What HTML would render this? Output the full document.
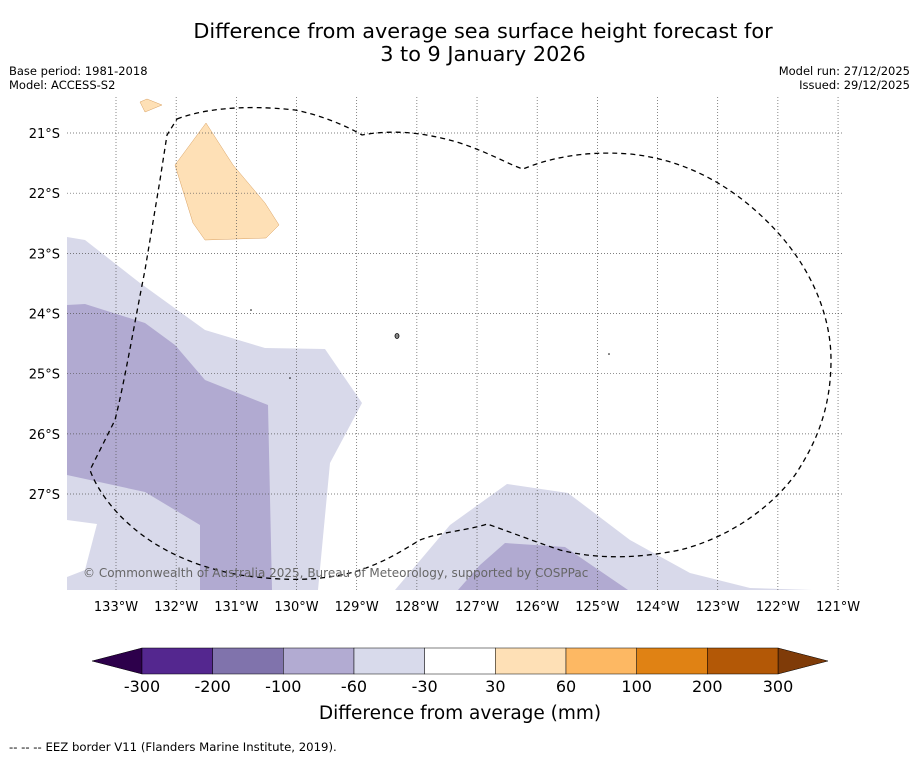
<!DOCTYPE html>
<html><head><meta charset="utf-8"><style>
body{margin:0;background:#fff;font-family:"DejaVu Sans","Liberation Sans",sans-serif;}
svg{display:block}
</style></head><body>
<svg width="919" height="758" viewBox="0 0 919 758" xmlns="http://www.w3.org/2000/svg" font-family="DejaVu Sans, Liberation Sans, sans-serif">
<rect width="919" height="758" fill="#fff"/>
<text x="483" y="38" font-size="20.8" text-anchor="middle">Difference from average sea surface height forecast for</text>
<text x="483" y="61" font-size="20.8" text-anchor="middle">3 to 9 January 2026</text>
<text x="9" y="75" font-size="11.5">Base period: 1981-2018</text>
<text x="9" y="89" font-size="11.5">Model: ACCESS-S2</text>
<text x="910" y="75" font-size="11.5" text-anchor="end">Model run: 27/12/2025</text>
<text x="910" y="89" font-size="11.5" text-anchor="end">Issued: 29/12/2025</text>
<defs><clipPath id="mc"><rect x="67" y="97" width="776" height="493"/></clipPath></defs>
<g clip-path="url(#mc)">
<polygon fill="#d8d9ea" points="67,237 85,240 140,283 205,330 265,348 325,349 362,403 330,463 318,590 67,590"/>
<polygon fill="#fff" points="67,520 97,524 85,570 67,577"/>
<polygon fill="#b1aad1" points="67,305 85,304 145,323 175,345 205,380 268,405 272,590 200,590 200,525 145,492 67,475"/>
<polygon fill="#d8d9ea" points="395,590 450,525 507,484 568,493 630,540 690,573 750,588 812,590"/>
<polygon fill="#b1aad1" points="458,590 480,565 505,543 565,547 628,590"/>
<polygon fill="#fee0b6" stroke="#d9a060" stroke-width="0.5" points="175,165 206,123 233,165 265,203 279,225 266,238 205,240 193,223"/>
<polygon fill="#fee0b6" stroke="#d9a060" stroke-width="0.5" points="140,102 147,99 162,105 145,112"/>
<g id="grid" stroke="#555" stroke-width="0.7" stroke-dasharray="1,2"></g>
<path fill="none" stroke="#000" stroke-width="1.3" stroke-dasharray="5,4" d="M177,119 C200,110 240,104 295,110 C320,115 345,125 362,135 C390,130 420,131 460,143 C490,153 510,165 523,169 C545,160 580,150 630,154 C690,160 740,190 780,235 C815,275 831,320 831,360 C831,410 815,445 795,475 C765,515 720,540 680,550 C640,558 600,560 560,550 C530,540 505,530 487,524 C470,530 440,532 420,540 C400,552 380,565 350,573 C320,580 290,582 240,575 C200,568 160,552 130,525 C110,508 95,485 90,470 L115,420 C125,380 135,320 145,270 L160,180 L167,135 Z"/>
<ellipse cx="397" cy="336" rx="2" ry="2.5" fill="#888" stroke="#000" stroke-width="0.8"/>
<circle cx="251" cy="310" r="0.8" fill="#000"/><circle cx="290" cy="378" r="0.8" fill="#000"/><circle cx="609" cy="354" r="0.8" fill="#000"/>
<text x="83" y="577" font-size="12" fill="#666">© Commonwealth of Australia 2025, Bureau of Meteorology, supported by COSPPac</text>
</g>
<g id="axes" font-size="13"></g>
<g id="cbar"></g>
<text x="460" y="719" font-size="18.5" text-anchor="middle">Difference from average (mm)</text>
<text x="9" y="751" font-size="11.7">--  --  -- EEZ border V11 (Flanders Marine Institute, 2019).</text>
</svg>
<script>
const lons=[133,132,131,130,129,128,127,126,125,124,123,122,121];
const lats=[21,22,23,24,25,26,27];
const cbTicks=["-300","-200","-100","-60","-30","30","60","100","200","300"];
const cbColors=["#54278f","#8073ac","#b2abd2","#d8daeb","#ffffff","#fee0b6","#fdb863","#e08214","#b35806"];
const NS="http://www.w3.org/2000/svg";
const xLon=l=>116+(133-l)*60.17, yLat=l=>133+(l-21)*60.17;
function mk(t,a,p){const e=document.createElementNS(NS,t);for(const k in a)e.setAttribute(k,a[k]);p.appendChild(e);return e;}
const g=document.getElementById('grid'),ax=document.getElementById('axes'),cb=document.getElementById('cbar');
lons.forEach(l=>{const x=xLon(l);
 const ln=mk('line',{x1:x,x2:x,y1:97,y2:590},g);
 
 
 const t=mk('text',{x:x,y:611,'text-anchor':'middle'},ax);t.textContent=l+'°W';
 
 });
lats.forEach(l=>{const y=yLat(l);
 const ln=mk('line',{x1:67,x2:843,y1:y,y2:y},g);
 
 
 const t=mk('text',{x:60,y:y+5,'text-anchor':'end'},ax);t.textContent=l+'°S';
 
 });
const cx0=142,cw=(778-142)/cbColors.length;
const l1=mk('polygon',{points:`92,661 142,648 142,674`,fill:'#2d004b',stroke:'#000','stroke-width':0.5},cb);


const r1=mk('polygon',{points:`828,661 778,648 778,674`,fill:'#7f3b08',stroke:'#000','stroke-width':0.5},cb);


cbColors.forEach((c,i)=>{const r=mk('rect',{x:cx0+i*cw,y:648,width:cw,height:26,fill:c,stroke:'#000','stroke-width':0.5},cb);
 
 });
cbTicks.forEach((s,i)=>{const t=mk('text',{x:cx0+i*cw,y:692,'text-anchor':'middle','font-size':16},cb);t.textContent=s;
 
 });
</script>
</body></html>
